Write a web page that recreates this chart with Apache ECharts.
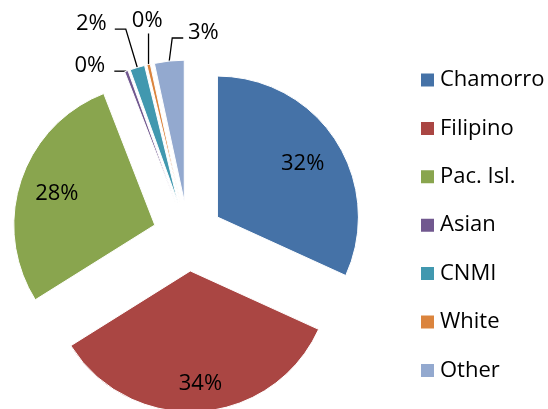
<!DOCTYPE html>
<html>
<head>
<meta charset="utf-8">
<script src="https://cdn.jsdelivr.net/npm/echarts@6/dist/echarts.min.js"></script>
<style>
  html, body { margin: 0; padding: 0; background: #fff; }
  #chart { width: 548px; height: 409px; }
</style>
</head>
<body>
<div id="chart"></div>
<script>
// shares (%)
var groups = ['Chamorro', 'Filipino', 'Pac. Isl.', 'Asian', 'CNMI', 'White', 'Other'];
var shares = [31.8, 34.3, 28.0, 0.4, 1.7, 0.4, 3.4];
var colors = ['#4572A7', '#AA4643', '#89A54E', '#71588F', '#4198AF', '#DB843D', '#93A9CF'];

// big slices carry the label inside, the thin ones get a leader line
var bigSlice = [true, true, true, false, false, false, false];
// inside label nudges [dx, dy]
var insideShift = [[-6, 5], [3, 5], [5, 3]];
// leader lines for thin slices: radial length, horizontal length, label shift
var leaderLen = { 3: 0, 4: 40, 5: 31, 6: 23 };
var leaderLen2 = { 3: 12, 4: 11, 5: 0, 6: 11 };
var leaderPath = { 3: null, 4: null, 5: [[0, -31]], 6: [[3, -23], [14, -23]] };
var labelShift = { 3: [-5, -5], 4: [-4, -5], 5: [25, -14], 6: [67, -5] };

var font = '"Open Sans", sans-serif';
var center = [188, 236];
var radius = 141;
var explode = 35;

function pct(p) {
  return Math.round(p.percent) + '%';
}

var mainData = groups.map(function (name, i) {
  return {
    name: name,
    value: shares[i],
    selected: true,
    itemStyle: { color: colors[i] },
    label: { show: !bigSlice[i] },
    labelLine: bigSlice[i] ? { show: false } : { show: true, length: leaderLen[i], length2: leaderLen2[i] }
  };
});

// transparent copy, only used to push the inside labels outward
var labelData = groups.map(function (name, i) {
  return {
    name: name,
    value: shares[i],
    selected: true,
    label: { show: bigSlice[i] }
  };
});

var chart = echarts.init(document.getElementById('chart'));
chart.setOption({
  animation: false,
  backgroundColor: '#fff',
  textStyle: { fontFamily: font },
  legend: {
    orient: 'vertical',
    left: 419,
    top: 69,
    padding: 0,
    itemWidth: 15,
    itemHeight: 15,
    itemGap: 26.4,
    icon: 'rect',
    selectedMode: false,
    data: groups,
    textStyle: { fontFamily: font, fontSize: 22, color: '#000', lineHeight: 22 }
  },
  series: [
    {
      type: 'pie',
      center: center,
      radius: [0, radius],
      startAngle: 90,
      selectedMode: 'multiple',
      selectedOffset: explode,
      avoidLabelOverlap: false,
      itemStyle: { borderColor: '#fff', borderWidth: 1 },
      label: {
        position: 'outside',
        formatter: pct,
        fontFamily: font,
        fontSize: 22,
        color: '#000',
        distanceToLabelLine: 4
      },
      labelLine: { lineStyle: { color: '#000', width: 1.3 } },
      labelLayout: function (p) {
        var i = p.dataIndex;
        if (!labelShift[i]) return {};
        var out = { dx: labelShift[i][0], dy: labelShift[i][1] };
        if (leaderPath[i] && p.labelLinePoints) {
          var p0 = p.labelLinePoints[0];
          out.labelLinePoints = [p0].concat(leaderPath[i].map(function (d) {
            return [p0[0] + d[0], p0[1] + d[1]];
          }));
        }
        return out;
      },
      emphasis: { disabled: true },
      data: mainData
    },
    {
      type: 'pie',
      silent: true,
      center: center,
      radius: [70, radius],
      startAngle: 90,
      selectedMode: 'multiple',
      selectedOffset: explode,
      avoidLabelOverlap: false,
      itemStyle: { color: 'rgba(0,0,0,0)' },
      label: {
        position: 'inside',
        formatter: pct,
        fontFamily: font,
        fontSize: 22,
        color: '#000'
      },
      labelLine: { show: false },
      labelLayout: function (p) {
        var s = insideShift[p.dataIndex];
        return s ? { dx: s[0], dy: s[1] } : {};
      },
      emphasis: { disabled: true },
      data: labelData
    }
  ]
});
</script>
</body>
</html>
